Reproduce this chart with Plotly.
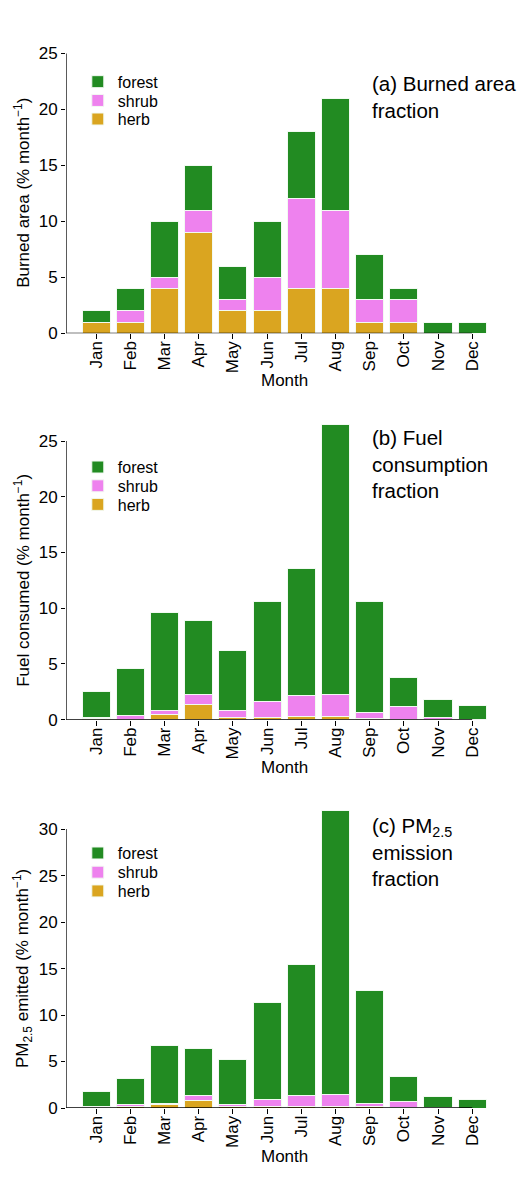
import plotly.graph_objects as go

W, H = 527, 1178

months = ["Jan", "Feb", "Mar", "Apr", "May", "Jun",
          "Jul", "Aug", "Sep", "Oct", "Nov", "Dec"]

# (a) burned area fraction, % per month
burned_herb = [1, 1, 4, 9, 2, 2, 4, 4, 1, 1, 0, 0]
burned_shrub = [0, 1, 1, 2, 1, 3, 8, 7, 2, 2, 0, 0]
burned_forest = [1, 2, 5, 4, 3, 5, 6, 10, 4, 1, 1, 1]

# (b) fuel consumption fraction, % per month
fuel_herb = [0.08, 0.05, 0.47, 1.38, 0.20, 0.20, 0.27, 0.27, 0.10, 0.05, 0.05, 0.00]
fuel_shrub = [0.12, 0.33, 0.33, 0.87, 0.60, 1.40, 1.91, 2.00, 0.57, 1.10, 0.13, 0.02]
fuel_forest = [2.30, 4.22, 8.80, 6.65, 5.40, 9.00, 11.42, 24.23, 9.93, 2.60, 1.62, 1.25]

# (c) PM2.5 emission fraction, % per month
pm_herb = [0.05, 0.15, 0.42, 0.85, 0.15, 0.15, 0.20, 0.20, 0.15, 0.05, 0.02, 0.00]
pm_shrub = [0.09, 0.20, 0.11, 0.46, 0.27, 0.77, 1.11, 1.22, 0.38, 0.66, 0.03, 0.00]
pm_forest = [1.60, 2.87, 6.20, 5.14, 4.82, 10.48, 14.14, 30.58, 12.12, 2.73, 1.15, 0.92]

cover_names = ["herb", "shrub", "forest"]
cover_colors = {"forest": "#228B22", "shrub": "#EE82EE", "herb": "#DAA520"}

# pixel layout of each panel: plotted region top, value-0 line, top of the labelled axis,
# legend row centres, top of the panel label, centre of the "Month" title
panels = [
    dict(series=[burned_herb, burned_shrub, burned_forest], axis_max=25,
         ytitle="Burned area (% month<sup>−1</sup>)",
         label="(a) Burned area<br>fraction",
         top_px=45.0, zero_px=333.3, axis_top_px=50.0,
         legend_rows={"forest": 78.7, "shrub": 97.7, "herb": 116.5},
         label_top_px=67.0, month_px=381.0),
    dict(series=[fuel_herb, fuel_shrub, fuel_forest], axis_max=25,
         ytitle="Fuel consumed (% month<sup>−1</sup>)",
         label="(b) Fuel<br>consumption<br>fraction",
         top_px=418.0, zero_px=724.3, axis_top_px=442.3,
         legend_rows={"forest": 468.7, "shrub": 487.7, "herb": 506.5},
         label_top_px=424.7, month_px=773.0),
    dict(series=[pm_herb, pm_shrub, pm_forest], axis_max=30,
         ytitle="PM<sub>2.5</sub> emitted (% month<sup>−1</sup>)",
         label="(c) PM<sub>2.5</sub><br>emission<br>fraction",
         top_px=808.0, zero_px=1117.3, axis_top_px=835.0,
         legend_rows={"forest": 859.3, "shrub": 878.7, "herb": 897.7},
         label_top_px=817.7, month_px=1166.0),
]

FONT = "Liberation Sans, Arial, sans-serif"
x_left_px, x_right_px = 66.0, 500.0
first_center_px, spacing_px = 96.3, 34.17
x_lo = (x_left_px - first_center_px) / spacing_px
x_hi = (x_right_px - first_center_px) / spacing_px
x_axis_end = len(months) - 1  # axis line runs from the y axis to the last tick


def fy(px):
    return 1 - px / H


fig = go.Figure()
layout = dict(
    width=W, height=H, margin=dict(l=0, r=0, t=0, b=0),
    paper_bgcolor="white", plot_bgcolor="white",
    barmode="stack", bargap=0.18,
    font=dict(family=FONT, size=16, color="black"),
    annotations=[], shapes=[], showlegend=True,
)

legend_idx = 0
for i, p in enumerate(panels, start=1):
    xa = "x" if i == 1 else f"x{i}"
    ya = "y" if i == 1 else f"y{i}"
    scale = (p["zero_px"] - p["axis_top_px"]) / p["axis_max"]
    y_hi = (p["zero_px"] - p["top_px"]) / scale

    for name, vals in zip(cover_names, p["series"]):
        legend_idx += 1
        lg = "legend" if legend_idx == 1 else f"legend{legend_idx}"
        fig.add_trace(go.Bar(
            x=months, y=vals, name=name, xaxis=xa, yaxis=ya, legend=lg,
            marker=dict(color=cover_colors[name], line=dict(color="#f2faf2", width=1)),
            showlegend=True,
        ))
        layout[lg] = dict(
            x=77.8 / W, y=fy(p["legend_rows"][name]), xanchor="left", yanchor="middle",
            bgcolor="rgba(0,0,0,0)", font=dict(size=16), itemclick=False,
            borderwidth=0,
        )

    xkey = "xaxis" if i == 1 else f"xaxis{i}"
    ykey = "yaxis" if i == 1 else f"yaxis{i}"
    layout[xkey] = dict(
        domain=[x_left_px / W, x_right_px / W], anchor=ya, type="category",
        range=[x_lo, x_hi], showline=False,
        ticks="outside", ticklen=5, tickcolor="black", tickwidth=1,
        tickangle=-90, tickfont=dict(size=17), ticklabelstandoff=-5,
        showgrid=False, zeroline=False,
    )
    layout[ykey] = dict(
        domain=[fy(p["zero_px"]), fy(p["top_px"])], anchor=xa,
        range=[0, y_hi], tickvals=list(range(0, p["axis_max"] + 1, 5)),
        showline=False, ticks="outside", ticklen=4, tickcolor="black", tickwidth=1,
        tickfont=dict(size=17), showgrid=False, zeroline=False,
    )

    # axis lines spanning the labelled ticks only
    layout["shapes"].append(dict(
        type="line", xref=xa, yref=ya, x0=x_lo, x1=x_axis_end, y0=0, y1=0,
        line=dict(color="black", width=1.3), layer="above",
    ))
    layout["shapes"].append(dict(
        type="line", xref=xa, yref=ya, x0=x_lo, x1=x_lo, y0=0, y1=p["axis_max"],
        line=dict(color="black", width=1.3), layer="above",
    ))

    ann = layout["annotations"]
    ann.append(dict(
        text=p["label"], xref="paper", yref="paper",
        x=370 / W, y=fy(p["label_top_px"]), xanchor="left", yanchor="top",
        align="left", showarrow=False, font=dict(size=20.5),
    ))
    ann.append(dict(
        text=p["ytitle"], xref="paper", yref="paper", textangle=-90,
        x=22.5 / W, y=fy((p["zero_px"] + p["axis_top_px"]) / 2),
        xanchor="center", yanchor="middle", showarrow=False, font=dict(size=17),
    ))
    ann.append(dict(
        text="Month", xref="paper", yref="paper",
        x=(first_center_px + spacing_px * x_axis_end / 2) / W, y=fy(p["month_px"]),
        xanchor="center", yanchor="middle", showarrow=False, font=dict(size=17),
    ))

fig.update_layout(**layout)
fig.write_html("out.html")
